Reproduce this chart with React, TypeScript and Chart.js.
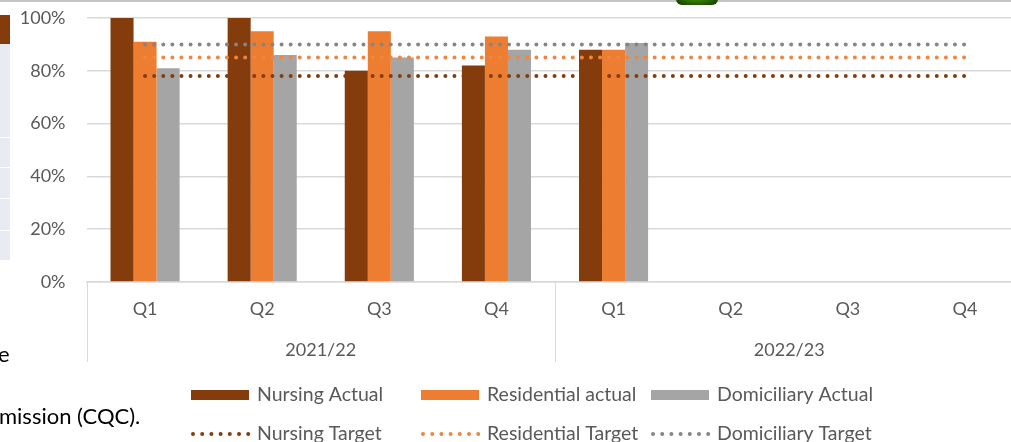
import React, { useEffect, useRef } from 'react';
import { Chart, registerables } from 'chart.js';

Chart.register(...registerables);

const categories = ['Q1', 'Q2', 'Q3', 'Q4', 'Q1', 'Q2', 'Q3', 'Q4'];
const yearGroups = ['2021/22', '2022/23'];
const nursingActual = [100, 100, 80, 82, 88, null, null, null];
const residentialActual = [91, 95, 95, 93, 88, null, null, null];
const domiciliaryActual = [81, 86, 85, 88, 90.5, null, null, null];
const nursingTarget = [78, 78, 78, 78, 78, 78, 78, 78];
const residentialTarget = [85, 85, 85, 85, 85, 85, 85, 85];
const domiciliaryTarget = [90, 90, 90, 90, 90, 90, 90, 90];
const yTickValues = [0, 20, 40, 60, 80, 100];

const FONT = 'Lato, "Open Sans", sans-serif';
const TEXT = '#595959';

const groupPlugin = {
  id: 'groupsAndLegend',
  afterDraw(chart: any) {
    const { ctx, chartArea, scales } = chart;
    const x = scales.x;
    ctx.save();
    ctx.strokeStyle = '#d9d9d9';
    ctx.lineWidth = 1;
    const divs = [chartArea.left, (x.getPixelForValue(3) + x.getPixelForValue(4)) / 2, chartArea.right];
    divs.forEach((d) => {
      ctx.beginPath();
      ctx.moveTo(Math.round(d) + 0.5, chartArea.bottom);
      ctx.lineTo(Math.round(d) + 0.5, chartArea.bottom + 80);
      ctx.stroke();
    });
    ctx.fillStyle = TEXT;
    ctx.font = `18px ${FONT}`;
    ctx.textAlign = 'center';
    ctx.textBaseline = 'middle';
    yearGroups.forEach((g, i) => {
      const c = (x.getPixelForValue(i * 4) + x.getPixelForValue(i * 4 + 3)) / 2;
      ctx.fillText(g, c, chartArea.bottom + 68);
    });
    const ds = chart.data.datasets;
    const cols = [191, 421, 651];
    const rows = [395, 434];
    ctx.textAlign = 'left';
    ctx.font = `19.5px ${FONT}`;
    ds.forEach((d: any, i: number) => {
      const row = d.type === 'line' ? 1 : 0;
      const col = i % 3;
      const sx = cols[col];
      const sy = rows[row];
      if (row === 0) {
        ctx.fillStyle = d.backgroundColor;
        ctx.fillRect(sx, sy - 5, 58, 10);
      } else {
        ctx.fillStyle = d.borderColor;
        for (let k = 0; k < 7; k++) {
          ctx.beginPath();
          ctx.arc(sx + 2 + k * 9.2, sy, 2, 0, Math.PI * 2);
          ctx.fill();
        }
      }
      ctx.fillStyle = TEXT;
      ctx.fillText(d.label, sx + 66, sy);
    });
    ctx.restore();
  },
};

function ChartView() {
  const ref = useRef<HTMLCanvasElement | null>(null);
  useEffect(() => {
    if (!ref.current) return;
    const lineDs = (label: string, data: number[], color: string) => ({
      type: 'line' as const,
      label,
      data,
      borderColor: color,
      backgroundColor: color,
      borderWidth: 4,
      borderDash: [0, 9.1],
      borderCapStyle: 'round' as const,
      pointRadius: 0,
      fill: false,
      order: 0,
    });
    const barDs = (label: string, data: (number | null)[], color: string) => ({
      type: 'bar' as const,
      label,
      data,
      backgroundColor: color,
      borderWidth: 0,
      categoryPercentage: 0.59,
      barPercentage: 1,
      order: 1,
    });
    const chart = new Chart(ref.current, {
      data: {
        labels: categories,
        datasets: [
          barDs('Nursing Actual', nursingActual, '#843C0C'),
          barDs('Residential actual', residentialActual, '#ED7D31'),
          barDs('Domiciliary Actual', domiciliaryActual, '#A5A5A5'),
          lineDs('Nursing Target', nursingTarget, '#843C0C'),
          lineDs('Residential Target', residentialTarget, '#EE8540'),
          lineDs('Domiciliary Target', domiciliaryTarget, '#858585'),
        ] as any,
      },
      options: {
        responsive: false,
        animation: false,
        maintainAspectRatio: false,
        layout: { padding: { top: 0, right: 46.5, bottom: 0, left: 0 } },
        plugins: { legend: { display: false }, tooltip: { enabled: false } },
        scales: {
          x: {
            grid: { display: false, drawTicks: false },
            border: { color: '#d9d9d9', width: 1.5 },
            ticks: { color: TEXT, font: { family: FONT, size: 18 }, padding: 16, maxRotation: 0, autoSkip: false },
            afterFit: (s: any) => { s.height = 160; },
          },
          y: {
            min: 0,
            max: 100,
            afterBuildTicks: (s: any) => { s.ticks = yTickValues.map((v) => ({ value: v })); },
            grid: { color: '#d9d9d9', lineWidth: 1.5, drawTicks: false },
            border: { display: false },
            ticks: { color: TEXT, font: { family: FONT, size: 18 }, padding: 21, callback: (v: any) => `${v}%` },
            afterFit: (s: any) => { s.width = 86.5; s.paddingTop = 0; s.paddingBottom = 0; },
          },
        },
      },
      plugins: [
        groupPlugin,
        {
          id: 'fixArea',
          afterLayout(chart: any) {
            const y = chart.scales.y;
            const top = 18;
            const bottom = chart.chartArea.bottom;
            chart.chartArea.top = top;
            chart.chartArea.height = bottom - top;
            y.top = top;
            y.height = bottom - top;
            y.bottom = bottom;
            y.configure();
          },
        },
      ],
    });
    return () => chart.destroy();
  }, []);
  return <canvas ref={ref} width={1070} height={442} style={{ display: 'block', width: 1070, height: 442 }} />;
}

export default function App() {
  const abs = { position: 'absolute' as const };
  return (
    <div style={{ ...abs, left: 0, top: 0, width: 1011, height: 442, overflow: 'hidden', background: '#fff' }}>
      <div style={{ ...abs, left: 0, top: 0 }}>
        <ChartView />
      </div>
      <div style={{ ...abs, left: 0, top: 0, width: 1011, height: 2, background: '#c6c6c6' }} />
      <div style={{ ...abs, left: 676, top: -8, width: 42, height: 13, borderRadius: '0 0 6px 6px', background: 'radial-gradient(ellipse at 50% 20%, #4fb000, #1a4400 85%)' }} />
      <div style={{ ...abs, left: 0, top: 15, width: 10, height: 29, background: '#843C0C' }} />
      <div style={{ ...abs, left: 0, top: 44, width: 10, height: 216, background: '#e8ebf2' }} />
      {[137, 167, 198, 230].map((t) => (
        <div key={t} style={{ ...abs, left: 0, top: t, width: 10, height: 1, background: '#ffffff' }} />
      ))}
      <div style={{ ...abs, left: -2, top: 340, font: `22px ${FONT}`, color: '#000' }}>e</div>
      <div style={{ ...abs, left: -1, top: 402, font: `22px ${FONT}`, color: '#000', whiteSpace: 'nowrap' }}>mission (CQC).</div>
    </div>
  );
}
